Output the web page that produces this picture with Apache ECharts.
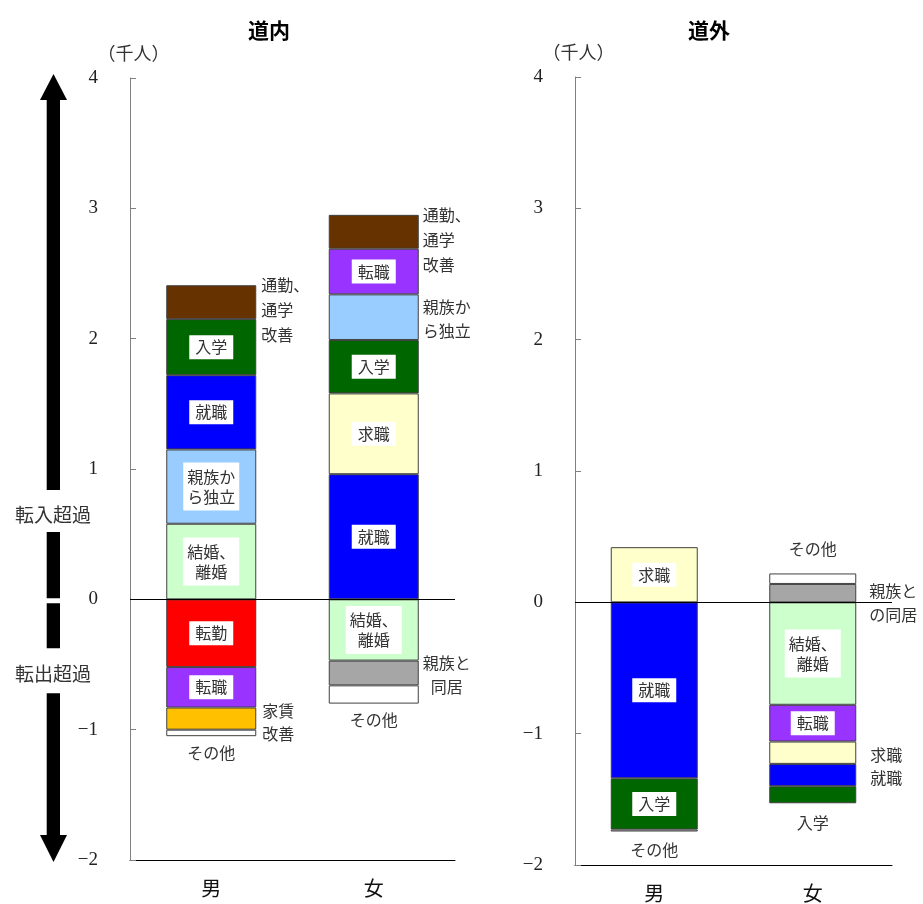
<!DOCTYPE html>
<html><head><meta charset="utf-8">
<script src="https://cdn.jsdelivr.net/npm/echarts@6/dist/echarts.min.js"></script>
<style>html,body{margin:0;padding:0;background:#fff}#c{width:923px;height:904px}</style>
</head><body><div id="c"></div>
<script>
// ---------- data ----------
const categories = ['男', '女'];
const panelTitles = ['道内', '道外'];
const yMin = -2, yMax = 4, yStep = 1;

// 道内 (千人)
const naiMalePosCauses = ['結婚、離婚', '親族から独立', '就職', '入学', '通勤、通学改善'];
const naiMalePosValues = [0.58, 0.57, 0.57, 0.43, 0.26];
const naiMaleNegCauses = ['転勤', '転職', '家賃改善', 'その他'];
const naiMaleNegValues = [-0.52, -0.31, -0.17, -0.05];
const naiFemalePosCauses = ['就職', '求職', '入学', '親族から独立', '転職', '通勤、通学改善'];
const naiFemalePosValues = [0.96, 0.62, 0.41, 0.35, 0.35, 0.26];
const naiFemaleNegCauses = ['結婚、離婚', '親族と同居', 'その他'];
const naiFemaleNegValues = [-0.47, -0.19, -0.14];

// 道外 (千人)
const gaiMalePosCauses = ['求職'];
const gaiMalePosValues = [0.42];
const gaiMaleNegCauses = ['就職', '入学', 'その他'];
const gaiMaleNegValues = [-1.34, -0.39, -0.015];
const gaiFemalePosCauses = ['親族との同居', 'その他'];
const gaiFemalePosValues = [0.14, 0.08];
const gaiFemaleNegCauses = ['結婚、離婚', '転職', '求職', '就職', '入学'];
const gaiFemaleNegValues = [-0.78, -0.28, -0.17, -0.17, -0.13];

// ---------- styles ----------
const JP = '"Noto Sans CJK JP", "Noto Sans", sans-serif';
const SERIF = '"Liberation Serif", "DejaVu Serif", serif';
const causeColors = {
  '結婚、離婚': '#CCFFCC', '親族から独立': '#99CCFF', '就職': '#0000FF', '入学': '#006600',
  '通勤、通学改善': '#663300', '転職': '#9933FF', '求職': '#FFFFCC', '転勤': '#FF0000',
  '家賃改善': '#FFC000', 'その他': '#FFFFFF', '親族と同居': '#A6A6A6', '親族との同居': '#A6A6A6'
};
// label specs: key = panel|bar|cause
const labelSpecs = {
  '道内|男|結婚、離婚': {text: '結婚、\n離婚', kind: 'in'},
  '道内|男|親族から独立': {text: '親族か\nら独立', kind: 'in'},
  '道内|男|就職': {text: '就職', kind: 'in'},
  '道内|男|入学': {text: '入学', kind: 'in'},
  '道内|男|通勤、通学改善': {text: '通勤、\n通学\n改善', kind: 'rightTop', d: 5},
  '道内|男|転勤': {text: '転勤', kind: 'in'},
  '道内|男|転職': {text: '転職', kind: 'in'},
  '道内|男|家賃改善': {text: '家賃\n改善', kind: 'right', d: 6, dy: 4, lh: 23},
  '道内|男|その他': {text: 'その他', kind: 'below', d: 5},
  '道内|女|就職': {text: '就職', kind: 'in'},
  '道内|女|求職': {text: '求職', kind: 'in'},
  '道内|女|入学': {text: '入学', kind: 'in'},
  '道内|女|親族から独立': {text: '親族か\nら独立', kind: 'right', d: 4, dy: 2},
  '道内|女|転職': {text: '転職', kind: 'in'},
  '道内|女|通勤、通学改善': {text: '通勤、\n通学\n改善', kind: 'rightTop', d: 4},
  '道内|女|結婚、離婚': {text: '結婚、\n離婚', kind: 'in'},
  '道内|女|親族と同居': {text: '親族と\n同居', kind: 'rightCenter', d: 4, hw: 24, dy: 2},
  '道内|女|その他': {text: 'その他', kind: 'below', d: 4},
  '道外|男|求職': {text: '求職', kind: 'in'},
  '道外|男|就職': {text: '就職', kind: 'in'},
  '道外|男|入学': {text: '入学', kind: 'in'},
  '道外|男|その他': {text: 'その他', kind: 'below', d: 6},
  '道外|女|親族との同居': {text: '親族と\nの同居', kind: 'right', d: 13, dy: 10},
  '道外|女|その他': {text: 'その他', kind: 'above', d: 13},
  '道外|女|結婚、離婚': {text: '結婚、\n離婚', kind: 'in'},
  '道外|女|転職': {text: '転職', kind: 'in'},
  '道外|女|求職': {text: '求職', kind: 'right', d: 14, dy: 2},
  '道外|女|就職': {text: '就職', kind: 'right', d: 14, dy: 3},
  '道外|女|入学': {text: '入学', kind: 'below', d: 8}
};

function makeLabel(spec) {
  const base = {show: true, formatter: spec.text, fontFamily: JP, fontSize: 16, color: '#333', lineHeight: spec.lh || 24};
  switch (spec.kind) {
    case 'in': {
      const multi = spec.text.indexOf('\n') >= 0;
      return Object.assign(base, {position: 'inside', backgroundColor: '#fff',
        lineHeight: multi ? 20 : 16, padding: multi ? [4, 4] : [4, 6], align: 'center'});
    }
    case 'right': return Object.assign(base, {position: 'right', distance: spec.d, offset: [0, spec.dy || 0]});
    case 'rightTop': return Object.assign(base, {position: ['100%', 0], align: 'left', verticalAlign: 'top',
      lineHeight: 25, offset: [spec.d, -12.5]});
    case 'rightCenter': return Object.assign(base, {position: ['100%', '50%'], align: 'center', verticalAlign: 'middle',
      offset: [spec.d + spec.hw, spec.dy || 0]});
    case 'below': return Object.assign(base, {position: 'bottom', distance: spec.d});
    case 'above': return Object.assign(base, {position: 'top', distance: spec.d});
  }
}

function item(panel, bar, cause, value) {
  const spec = labelSpecs[panel + '|' + bar + '|' + cause];
  return {value: value, name: cause,
    itemStyle: {color: causeColors[cause], borderColor: '#404040', borderWidth: 1},
    label: spec ? makeLabel(spec) : {show: false}};
}

function buildPanel(panel, gi, barWidth, bars) {
  const out = [];
  ['pos', 'neg'].forEach(sign => {
    const n = Math.max(...bars.map(b => b[sign + 'V'].length));
    for (let i = 0; i < n; i++) {
      out.push({
        type: 'bar', name: panel + sign + i, stack: panel, xAxisIndex: gi, yAxisIndex: gi,
        barWidth: barWidth, emphasis: {disabled: true},
        data: bars.map((b, bi) => i < b[sign + 'V'].length
          ? item(panel, categories[bi], b[sign + 'C'][i], b[sign + 'V'][i]) : '-')
      });
    }
  });
  out[0].markLine = {silent: true, symbol: 'none', animation: false,
    lineStyle: {color: '#000', width: 1, type: 'solid'}, label: {show: false}, data: [{yAxis: 0}]};
  return out;
}

const series = [].concat(
  buildPanel('道内', 0, 90, [
    {posC: naiMalePosCauses, posV: naiMalePosValues, negC: naiMaleNegCauses, negV: naiMaleNegValues},
    {posC: naiFemalePosCauses, posV: naiFemalePosValues, negC: naiFemaleNegCauses, negV: naiFemaleNegValues}]),
  buildPanel('道外', 1, 87, [
    {posC: gaiMalePosCauses, posV: gaiMalePosValues, negC: gaiMaleNegCauses, negV: gaiMaleNegValues},
    {posC: gaiFemalePosCauses, posV: gaiFemalePosValues, negC: gaiFemaleNegCauses, negV: gaiFemaleNegValues}])
);

function yAxisCfg(gi) {
  return {type: 'value', gridIndex: gi, min: yMin, max: yMax, interval: yStep,
    axisLine: {show: true, lineStyle: {color: '#808080', width: 1}},
    axisTick: {show: true, inside: true, length: 6, lineStyle: {color: '#808080'}},
    splitLine: {show: false},
    axisLabel: {margin: 32, fontFamily: SERIF, fontSize: 19, color: '#222',
      formatter: v => v < 0 ? '\u2212' + Math.abs(v) : String(v)}};
}
function xAxisCfg(gi) {
  return {type: 'category', gridIndex: gi, data: categories,
    axisLine: {show: true, onZero: false, lineStyle: {color: '#000', width: 1}},
    axisTick: {show: false},
    axisLabel: {margin: 18, fontFamily: JP, fontSize: 20, color: '#111'}};
}

const graphic = [
  {type: 'polygon', shape: {points: [[53.5, 74], [40, 100], [67, 100]]}, style: {fill: '#000'}},
  {type: 'rect', shape: {x: 46.7, y: 99, width: 13.3, height: 737}, style: {fill: '#000'}},
  {type: 'polygon', shape: {points: [[40, 835], [67, 835], [53.5, 862]]}, style: {fill: '#000'}},
  {type: 'rect', shape: {x: 30, y: 490, width: 50, height: 42}, style: {fill: '#fff'}},
  {type: 'rect', shape: {x: 30, y: 598.3, width: 50, height: 5}, style: {fill: '#fff'}},
  {type: 'rect', shape: {x: 30, y: 648.3, width: 50, height: 45}, style: {fill: '#fff'}},
  {type: 'text', x: 53, y: 515, style: {text: '転入超過', font: '19px ' + JP, fill: '#333', align: 'center', verticalAlign: 'middle'}},
  {type: 'text', x: 53, y: 674, style: {text: '転出超過', font: '19px ' + JP, fill: '#333', align: 'center', verticalAlign: 'middle'}},
  {type: 'text', x: 133.5, y: 53, style: {text: '（千人）', font: '18px ' + JP, fill: '#333', align: 'center', verticalAlign: 'middle'}},
  {type: 'text', x: 578.5, y: 52, style: {text: '（千人）', font: '18px ' + JP, fill: '#333', align: 'center', verticalAlign: 'middle'}}
];

const option = {
  animation: false,
  backgroundColor: '#fff',
  title: [
    {text: panelTitles[0], left: 264, top: 15, textAlign: 'center', textStyle: {fontFamily: JP, fontSize: 21, fontWeight: 'bold', color: '#000'}},
    {text: panelTitles[1], left: 704, top: 15, textAlign: 'center', textStyle: {fontFamily: JP, fontSize: 21, fontWeight: 'bold', color: '#000'}}
  ],
  grid: [
    {left: 130, top: 78, width: 325, height: 782, containLabel: false, outerBoundsMode: 'none'},
    {left: 575, top: 77, width: 317, height: 788, containLabel: false, outerBoundsMode: 'none'}
  ],
  xAxis: [xAxisCfg(0), xAxisCfg(1)],
  yAxis: [yAxisCfg(0), yAxisCfg(1)],
  graphic: graphic,
  series: series
};
const chart = echarts.init(document.getElementById('c'), null, {renderer: 'canvas'});
chart.setOption(option);
</script></body></html>
